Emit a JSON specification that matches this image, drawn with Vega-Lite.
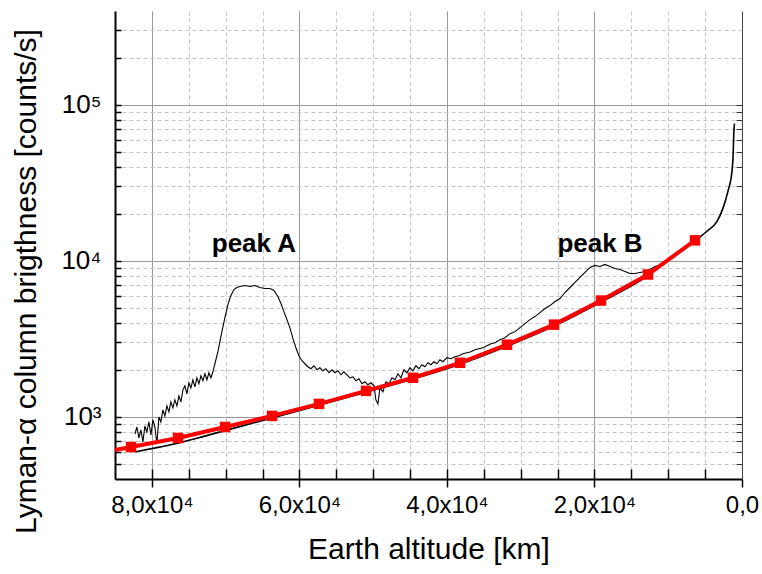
{
  "$schema": "https://vega.github.io/schema/vega-lite/v6.json",
  "width": 627,
  "height": 468,
  "autosize": {"type": "none"},
  "padding": {"left": 115, "top": 11, "right": 20, "bottom": 95},
  "background": "white",
  "config": {"view": {"stroke": null}, "font": "Liberation Sans"},
  "datasets": {
    "obs": [
      {"altitude":82303,"counts":777},{"altitude":82032,"counts":862},{"altitude":81761,"counts":733},{"altitude":81490,"counts":825},
      {"altitude":81218,"counts":691},{"altitude":80947,"counts":875},{"altitude":80676,"counts":801},{"altitude":80405,"counts":929},
      {"altitude":80134,"counts":766},{"altitude":79863,"counts":957},{"altitude":79591,"counts":862},{"altitude":79320,"counts":670},
      {"altitude":79049,"counts":1000},{"altitude":78778,"counts":929},{"altitude":78507,"counts":1109},{"altitude":78235,"counts":1015},
      {"altitude":77964,"counts":1177},{"altitude":77693,"counts":1077},{"altitude":77422,"counts":1249},{"altitude":77151,"counts":1143},
      {"altitude":76880,"counts":1286},{"altitude":76608,"counts":1177},{"altitude":76337,"counts":1365},{"altitude":76066,"counts":1249},
      {"altitude":75795,"counts":1492},{"altitude":75524,"counts":1583},{"altitude":75252,"counts":1406},{"altitude":74981,"counts":1654},
      {"altitude":74710,"counts":1536},{"altitude":74439,"counts":1730},{"altitude":74168,"counts":1559},{"altitude":73897,"counts":1782},
      {"altitude":73625,"counts":1630},{"altitude":73354,"counts":1835},{"altitude":73083,"counts":1704},{"altitude":72812,"counts":1890},
      {"altitude":72541,"counts":1730},{"altitude":72269,"counts":1919},{"altitude":71998,"counts":1782},{"altitude":71727,"counts":1947},
      {"altitude":71456,"counts":2192},{"altitude":71049,"counts":2618},{"altitude":70778,"counts":3036},{"altitude":70507,"counts":3521},
      {"altitude":70100,"counts":4332},{"altitude":69693,"counts":5251},{"altitude":69286,"counts":6000},{"altitude":68880,"counts":6558},
      {"altitude":68473,"counts":6755},{"altitude":68066,"counts":6856},{"altitude":67388,"counts":6958},{"altitude":66710,"counts":6856},
      {"altitude":66032,"counts":6958},{"altitude":65354,"counts":6755},{"altitude":64676,"counts":6656},{"altitude":63998,"counts":6656},
      {"altitude":63456,"counts":6462},{"altitude":62914,"counts":5912},{"altitude":62507,"counts":5330},{"altitude":62100,"counts":4734},
      {"altitude":61693,"counts":4206},{"altitude":61287,"counts":3735},{"altitude":60880,"counts":3174},{"altitude":60473,"counts":2778},
      {"altitude":60066,"counts":2468},{"altitude":59660,"counts":2292},{"altitude":59253,"counts":2192},{"altitude":58846,"counts":2097},
      {"altitude":58439,"counts":2036},{"altitude":58033,"counts":2128},{"altitude":57626,"counts":2006},{"altitude":57219,"counts":2066},
      {"altitude":56812,"counts":1976},{"altitude":56405,"counts":2036},{"altitude":55999,"counts":1919},{"altitude":55592,"counts":2006},
      {"altitude":55185,"counts":1919},{"altitude":54778,"counts":1976},{"altitude":54372,"counts":1863},{"altitude":53965,"counts":1947},
      {"altitude":53558,"counts":1863},{"altitude":53151,"counts":1782},{"altitude":52745,"counts":1808},{"altitude":52338,"counts":1704},
      {"altitude":51931,"counts":1755},{"altitude":51524,"counts":1630},{"altitude":51117,"counts":1679},{"altitude":50711,"counts":1606},
      {"altitude":50304,"counts":1654},{"altitude":49897,"counts":1583},{"altitude":49626,"counts":1286},{"altitude":49355,"counts":1212},
      {"altitude":49084,"counts":1536},{"altitude":48677,"counts":1448},{"altitude":48270,"counts":1679},{"altitude":47863,"counts":1630},
      {"altitude":47457,"counts":1782},{"altitude":47050,"counts":1730},{"altitude":46643,"counts":1890},{"altitude":46236,"counts":1782},
      {"altitude":45829,"counts":2006},{"altitude":45423,"counts":1919},{"altitude":45016,"counts":2066},{"altitude":44609,"counts":1976},
      {"altitude":44202,"counts":2128},{"altitude":43796,"counts":2036},{"altitude":43389,"counts":2160},{"altitude":42982,"counts":2097},
      {"altitude":42575,"counts":2225},{"altitude":42168,"counts":2160},{"altitude":41762,"counts":2258},{"altitude":41355,"counts":2192},
      {"altitude":40948,"counts":2326},{"altitude":40541,"counts":2258},{"altitude":40000,"counts":2396},{"altitude":39457,"counts":2361},
      {"altitude":38914,"counts":2432},{"altitude":38372,"counts":2468},{"altitude":37830,"counts":2542},{"altitude":37287,"counts":2580},
      {"altitude":36745,"counts":2618},{"altitude":36203,"counts":2697},{"altitude":35660,"counts":2737},{"altitude":35118,"counts":2778},
      {"altitude":34575,"counts":2862},{"altitude":34033,"counts":2948},{"altitude":33491,"counts":2992},{"altitude":32813,"counts":3128},
      {"altitude":32135,"counts":3222},{"altitude":31457,"counts":3418},{"altitude":30779,"counts":3521},{"altitude":30101,"counts":3735},
      {"altitude":29423,"counts":3963},{"altitude":28745,"counts":4206},{"altitude":28067,"counts":4397},{"altitude":27389,"counts":4665},
      {"altitude":26711,"counts":4950},{"altitude":26033,"counts":5174},{"altitude":25355,"counts":5490},{"altitude":24677,"counts":5740},
      {"altitude":23999,"counts":6273},{"altitude":23321,"counts":6755},{"altitude":22644,"counts":7274},{"altitude":21966,"counts":7833},
      {"altitude":21288,"counts":8435},{"altitude":20610,"counts":9083},{"altitude":19932,"counts":9356},{"altitude":19254,"counts":9218},
      {"altitude":18576,"counts":9496},{"altitude":17898,"counts":9218},{"altitude":17220,"counts":8950},{"altitude":16542,"counts":8818},
      {"altitude":15864,"counts":8561},{"altitude":15186,"counts":8311},{"altitude":14508,"counts":8311},{"altitude":13830,"counts":8435},
      {"altitude":13152,"counts":8561},{"altitude":12474,"counts":8818},{"altitude":11796,"counts":9218},{"altitude":11118,"counts":9400}
    ],
    "smooth": [
      {"altitude":82300,"counts":596},{"altitude":79000,"counts":640},{"altitude":76400,"counts":680},{"altitude":73200,"counts":745},
      {"altitude":70000,"counts":820},{"altitude":66800,"counts":900},{"altitude":63700,"counts":985},{"altitude":57340,"counts":1190},
      {"altitude":50970,"counts":1440},{"altitude":44600,"counts":1750},{"altitude":38230,"counts":2180},{"altitude":31860,"counts":2840},
      {"altitude":25490,"counts":3820},{"altitude":19110,"counts":5450},{"altitude":12740,"counts":8050},{"altitude":9500,"counts":10530},
      {"altitude":6100,"counts":13750},{"altitude":4746,"counts":15500},{"altitude":3390,"counts":17900},{"altitude":2576,"counts":21800},
      {"altitude":1898,"counts":28000},{"altitude":1356,"counts":37600},{"altitude":1220,"counts":45600},{"altitude":1085,"counts":70100},
      {"altitude":1020,"counts":76000}
    ],
    "model": [
      {"altitude":85000,"counts":614},{"altitude":82823,"counts":641},{"altitude":76452,"counts":733},{"altitude":70081,"counts":862},
      {"altitude":63710,"counts":1015},{"altitude":57339,"counts":1212},{"altitude":50968,"counts":1469},{"altitude":44597,"counts":1782},
      {"altitude":38226,"counts":2223},{"altitude":31855,"counts":2904},{"altitude":25484,"counts":3905},{"altitude":19113,"counts":5571},
      {"altitude":12742,"counts":8185},{"altitude":6371,"counts":13550}
    ],
    "labels": [
      {"altitude":66170,"counts":12770,"text":"peak A"},
      {"altitude":19250,"counts":12770,"text":"peak B"}
    ]
  },
  "layer": [
    {
      "data": {"name": "obs"},
      "mark": {"type": "line", "color": "#000000", "strokeWidth": 1.1},
      "encoding": {
        "x": {"field": "altitude", "type": "quantitative",
              "scale": {"type": "linear", "domain": [0, 85000], "reverse": true, "nice": false, "zero": false},
              "axis": {"orient": "bottom", "values": [5000,10000,15000,20000,25000,30000,35000,40000,45000,50000,55000,60000,65000,70000,75000,80000],
                       "grid": true, "gridDash": [4,3], "gridColor": "#c4c4c4", "gridWidth": 1,
                       "labels": false, "domain": false, "ticks": true, "tickSize": -10, "tickColor": "#000000", "tickWidth": 1.5, "title": null}},
        "y": {"field": "counts", "type": "quantitative",
              "scale": {"type": "log", "domain": [400, 400000], "nice": false},
              "axis": {"orient": "left", "values": [500,600,700,800,900,1000,2000,3000,4000,5000,6000,7000,8000,9000,10000,20000,30000,40000,50000,60000,70000,80000,90000,100000,200000,300000],
                       "grid": true, "gridDash": [4,3], "gridColor": "#c4c4c4", "gridWidth": 1,
                       "labels": false, "domain": false, "ticks": true, "tickSize": -6, "tickColor": "#000000", "tickWidth": 1.5, "title": null}}
      }
    },
    {
      "data": {"name": "smooth"},
      "mark": {"type": "line", "color": "#000000", "strokeWidth": 1.6, "interpolate": "monotone"},
      "encoding": {
        "x": {"field": "altitude", "type": "quantitative", "scale": {"type": "linear", "domain": [0, 85000], "reverse": true, "nice": false, "zero": false}, "axis": null},
        "y": {"field": "counts", "type": "quantitative", "scale": {"type": "log", "domain": [400, 400000], "nice": false}, "axis": null}
      }
    },
    {
      "data": {"name": "model"},
      "mark": {"type": "line", "color": "#ff0000", "strokeWidth": 4},
      "encoding": {
        "x": {"field": "altitude", "type": "quantitative",
              "scale": {"type": "linear", "domain": [0, 85000], "reverse": true, "nice": false, "zero": false},
              "axis": {"orient": "bottom", "values": [0, 20000, 40000, 60000, 80000],
                       "grid": true, "gridColor": "#9a9a9a", "gridWidth": 1,
                       "labelExpr": "datum.value == 0 ? '0,0' : (datum.value / 10000) + ',0x10⁴'",
                       "labelFont": "Liberation Sans", "labelFontSize": 24, "labelColor": "#000000", "labelPadding": 6,
                       "labelFlush": false, "labelOverlap": false, "labelBound": false,
                       "ticks": true, "tickSize": 8, "tickColor": "#000000", "tickWidth": 1.5,
                       "domain": true, "domainColor": "#000000", "domainWidth": 2,
                       "title": "Earth altitude [km]", "titleFont": "Liberation Sans", "titleFontSize": 30, "titleFontWeight": "normal",
                       "titleColor": "#000000", "titleBaseline": "alphabetic", "titleY": 79}},
        "y": {"field": "counts", "type": "quantitative",
              "scale": {"type": "log", "domain": [400, 400000], "nice": false},
              "axis": {"orient": "left", "values": [1000, 10000, 100000],
                       "grid": true, "gridColor": "#9a9a9a", "gridWidth": 1,
                       "labelExpr": "datum.value == 1000 ? '10³' : datum.value == 10000 ? '10⁴' : '10⁵'",
                       "labelFont": "Liberation Sans", "labelFontSize": 26, "labelColor": "#000000", "labelPadding": 14,
                       "labelOverlap": false, "labelBound": false, "labelFlush": false,
                       "ticks": false,
                       "domain": true, "domainColor": "#000000", "domainWidth": 2,
                       "title": "Lyman-α column brigthness [counts/s]", "titleFont": "Liberation Sans", "titleFontSize": 30,
                       "titleFontWeight": "normal", "titleColor": "#000000", "titleAngle": -90,
                       "titleBaseline": "alphabetic", "titleAlign": "center", "titleX": -80, "titleY": 270}}
      }
    },
    {
      "data": {"name": "model"},
      "transform": [{"filter": "datum.altitude < 84000"}],
      "mark": {"type": "point", "shape": "square", "filled": true, "color": "#ff0000", "size": 110, "opacity": 1},
      "encoding": {
        "x": {"field": "altitude", "type": "quantitative", "scale": {"type": "linear", "domain": [0, 85000], "reverse": true, "nice": false, "zero": false}, "axis": null},
        "y": {"field": "counts", "type": "quantitative",
              "scale": {"type": "log", "domain": [400, 400000], "nice": false},
              "axis": {"orient": "right", "values": [500,600,700,800,900,1000,2000,3000,4000,5000,6000,7000,8000,9000,10000,20000,30000,40000,50000,60000,70000,80000,90000,100000],
                       "grid": false, "labels": false, "ticks": true, "tickSize": -6, "tickColor": "#333333", "tickWidth": 1,
                       "domain": true, "domainColor": "#444444", "domainWidth": 1, "title": null}}
      }
    },
    {
      "data": {"name": "labels"},
      "mark": {"type": "text", "font": "Liberation Sans", "fontSize": 26, "fontWeight": "bold", "color": "#000000", "align": "center", "baseline": "middle"},
      "encoding": {
        "x": {"field": "altitude", "type": "quantitative", "scale": {"type": "linear", "domain": [0, 85000], "reverse": true, "nice": false, "zero": false}, "axis": null},
        "y": {"field": "counts", "type": "quantitative", "scale": {"type": "log", "domain": [400, 400000], "nice": false}, "axis": null},
        "text": {"field": "text", "type": "nominal"}
      }
    }
  ],
  "resolve": {"axis": {"x": "independent", "y": "independent"}}
}
